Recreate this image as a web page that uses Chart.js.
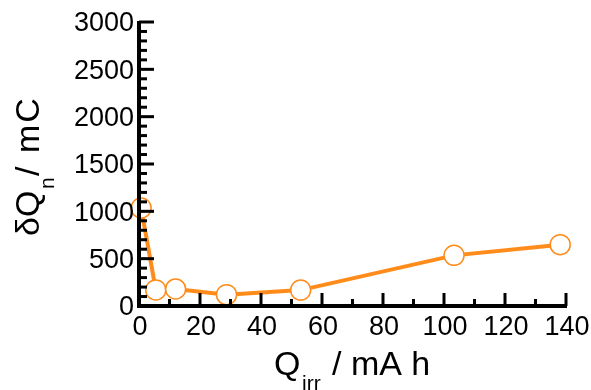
<!DOCTYPE html>
<html>
<head>
<meta charset="utf-8">
<script src="https://cdn.jsdelivr.net/npm/chart.js@4"></script>
<style>
  html, body { margin: 0; padding: 0; background: #fff; }
  #wrap { width: 591px; height: 390px; }
</style>
</head>
<body>
<div id="wrap"><canvas id="chart" width="591" height="390"></canvas></div>
<script>
// data
const qIrr = [0.7, 5.5, 12, 28.7, 53, 103.3, 138.1];
const deltaQ = [1035, 170, 180, 120, 168, 535, 648];

const xTicks = [0, 20, 40, 60, 80, 100, 120, 140];
const yTicks = [0, 500, 1000, 1500, 2000, 2500, 3000];

const orange = '#FF8C1A';
const FONT = '"Liberation Sans", Arial, sans-serif';

// draws axes, inward ticks, tick labels and titles
const axesPlugin = {
    id: 'axesPlugin',
    afterDraw(chart) {
        const ctx = chart.ctx;
        const xs = chart.scales.x, ys = chart.scales.y;
        const area = chart.chartArea;
        ctx.save();
        ctx.strokeStyle = '#000';
        ctx.fillStyle = '#000';

        // minor + major ticks, y
        ctx.lineWidth = 3;
        for (let v = 0; v <= 3000; v += 100) {
            const py = ys.getPixelForValue(v);
            const len = v % 500 === 0 ? 15 : 8;
            ctx.beginPath();
            ctx.moveTo(area.left, py);
            ctx.lineTo(area.left + len, py);
            ctx.stroke();
        }
        // ticks, x
        for (let v = 0; v <= 140; v += 10) {
            const px = xs.getPixelForValue(v);
            const len = v % 20 === 0 ? 13 : 7;
            ctx.beginPath();
            ctx.moveTo(px, area.bottom);
            ctx.lineTo(px, area.bottom - len);
            ctx.stroke();
        }
        // axis lines
        ctx.lineWidth = 4;
        ctx.beginPath();
        ctx.moveTo(area.left, area.top - 1);
        ctx.lineTo(area.left, area.bottom);
        ctx.lineTo(xs.getPixelForValue(140) + 1, area.bottom);
        ctx.stroke();

        // tick labels
        ctx.font = '27px ' + FONT;
        ctx.textAlign = 'right';
        ctx.textBaseline = 'middle';
        yTicks.forEach(v => {
            ctx.fillText(String(v), area.left - 5, ys.getPixelForValue(v) + 2);
        });
        ctx.textAlign = 'center';
        ctx.textBaseline = 'top';
        xTicks.forEach(v => {
            ctx.fillText(String(v), xs.getPixelForValue(v) + 1, area.bottom + 8);
        });

        // x title: Q_irr / mA h
        ctx.textAlign = 'left';
        ctx.textBaseline = 'alphabetic';
        ctx.font = '34px ' + FONT;
        ctx.fillText('Q', 274, 375);
        ctx.font = '21px ' + FONT;
        ctx.fillText('irr', 302, 390);
        ctx.font = '34px ' + FONT;
        ctx.fillText('/ mA h', 332, 375);

        // y title: δQ_n / mC (rotated)
        ctx.translate(39, 236);
        ctx.rotate(-Math.PI / 2);
        ctx.font = '34px ' + FONT;
        ctx.fillText('δQ', 0, 0);
        ctx.font = '21px ' + FONT;
        ctx.fillText('n', 47, 15);
        ctx.font = '34px ' + FONT;
        ctx.letterSpacing = '2px';
        ctx.fillText('/ mC', 60, 0);

        ctx.restore();
    }
};

new Chart(document.getElementById('chart'), {
    type: 'line',
    data: {
        labels: qIrr,
        datasets: [{
            data: qIrr.map((q, i) => ({ x: q, y: deltaQ[i] })),
            borderColor: orange,
            borderWidth: 4,
            pointRadius: 10,
            pointBackgroundColor: '#fff',
            pointBorderColor: orange,
            pointBorderWidth: 1.5,
            tension: 0,
            clip: false
        }]
    },
    options: {
        responsive: false,
        animation: false,
        devicePixelRatio: 1,
        layout: { padding: { left: 139, right: 25, top: 22, bottom: 84 } },
        plugins: { legend: { display: false }, tooltip: { enabled: false } },
        scales: {
            x: { type: 'linear', min: 0, max: 140, display: false },
            y: { min: 0, max: 3000, display: false }
        }
    },
    plugins: [axesPlugin]
});
</script>
</body>
</html>
